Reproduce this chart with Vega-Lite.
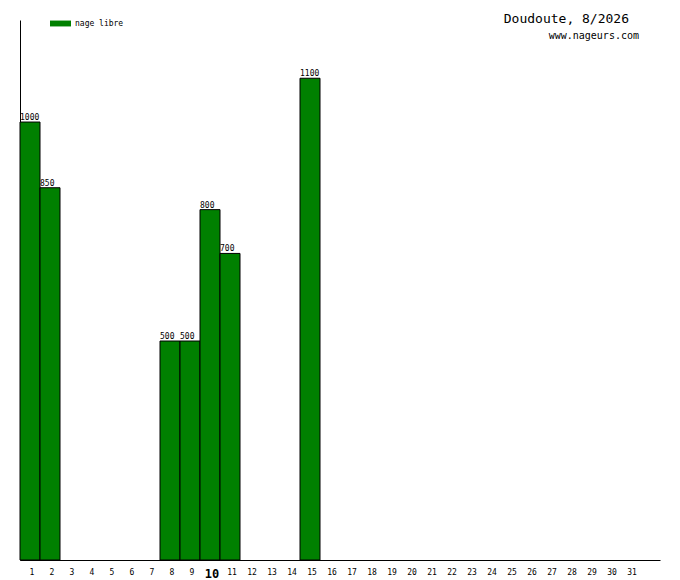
{
  "$schema": "https://vega.github.io/schema/vega-lite/v6.json",
  "autosize": {"type": "none"},
  "padding": {"left": 20, "top": 20, "right": 20, "bottom": 20},
  "width": 640,
  "height": 540,
  "background": "white",
  "title": {
    "text": "Doudoute, 8/2026\u2800",
    "subtitle": "www.nageurs.com",
    "anchor": "end",
    "frame": "group",
    "orient": "top",
    "offset": -28,
    "dx": -21,
    "font": "DejaVu Sans Mono",
    "fontSize": 13,
    "fontWeight": "normal",
    "color": "black",
    "subtitleFont": "DejaVu Sans Mono",
    "subtitleFontSize": 10,
    "subtitleColor": "black",
    "subtitlePadding": 5
  },
  "config": {
    "view": {"stroke": null},
    "font": "DejaVu Sans Mono"
  },
  "data": {
    "values": [
      {"day": 1, "distance": 1000, "nage": "nage libre"},
      {"day": 2, "distance": 850, "nage": "nage libre"},
      {"day": 8, "distance": 500, "nage": "nage libre"},
      {"day": 9, "distance": 500, "nage": "nage libre"},
      {"day": 10, "distance": 800, "nage": "nage libre"},
      {"day": 11, "distance": 700, "nage": "nage libre"},
      {"day": 15, "distance": 1100, "nage": "nage libre"}
    ]
  },
  "encoding": {
    "x": {
      "field": "day",
      "type": "ordinal",
      "scale": {
        "domain": [1, 2, 3, 4, 5, 6, 7, 8, 9, 10, 11, 12, 13, 14, 15, 16, 17, 18, 19, 20, 21, 22, 23, 24, 25, 26, 27, 28, 29, 30, 31, 32],
        "paddingInner": 0,
        "paddingOuter": 0
      },
      "axis": {
        "values": [1, 2, 3, 4, 5, 6, 7, 8, 9, 10, 11, 12, 13, 14, 15, 16, 17, 18, 19, 20, 21, 22, 23, 24, 25, 26, 27, 28, 29, 30, 31],
        "title": null,
        "ticks": false,
        "grid": false,
        "labelAngle": 0,
        "labelPadding": 8,
        "labelOffset": 2,
        "labelFont": "DejaVu Sans Mono",
        "labelColor": "black",
        "labelFontSize": {"condition": {"test": "datum.value == 10", "value": 12}, "value": 8},
        "labelFontWeight": {"condition": {"test": "datum.value == 10", "value": "bold"}, "value": "normal"},
        "domainColor": "black",
        "domainWidth": 1
      }
    },
    "y": {
      "field": "distance",
      "type": "quantitative",
      "scale": {"domain": [0, 1233], "nice": false, "zero": true},
      "axis": {
        "title": null,
        "labels": false,
        "ticks": false,
        "grid": false,
        "domainColor": "black",
        "domainWidth": 1
      }
    }
  },
  "layer": [
    {
      "mark": {"type": "text", "align": "left", "baseline": "alphabetic", "dy": -2, "fontSize": 8, "font": "DejaVu Sans Mono", "color": "black"},
      "encoding": {
        "x": {"field": "day", "type": "ordinal", "bandPosition": 0},
        "text": {"field": "distance", "type": "quantitative"}
      }
    },
    {
      "mark": {"type": "bar", "stroke": "black", "strokeWidth": 1},
      "encoding": {
        "color": {
          "field": "nage",
          "type": "nominal",
          "scale": {"range": ["#008000"]},
          "legend": {
            "title": null,
            "orient": "none",
            "legendX": 30,
            "legendY": -7,
            "padding": 0,
            "symbolType": "M-1,-0.28H1V0.28H-1Z",
            "symbolSize": 441,
            "symbolStrokeWidth": 0,
            "symbolOpacity": 1,
            "labelFont": "DejaVu Sans Mono",
            "labelFontSize": 8,
            "labelColor": "black",
            "labelOffset": 4
          }
        }
      }
    }
  ]
}
